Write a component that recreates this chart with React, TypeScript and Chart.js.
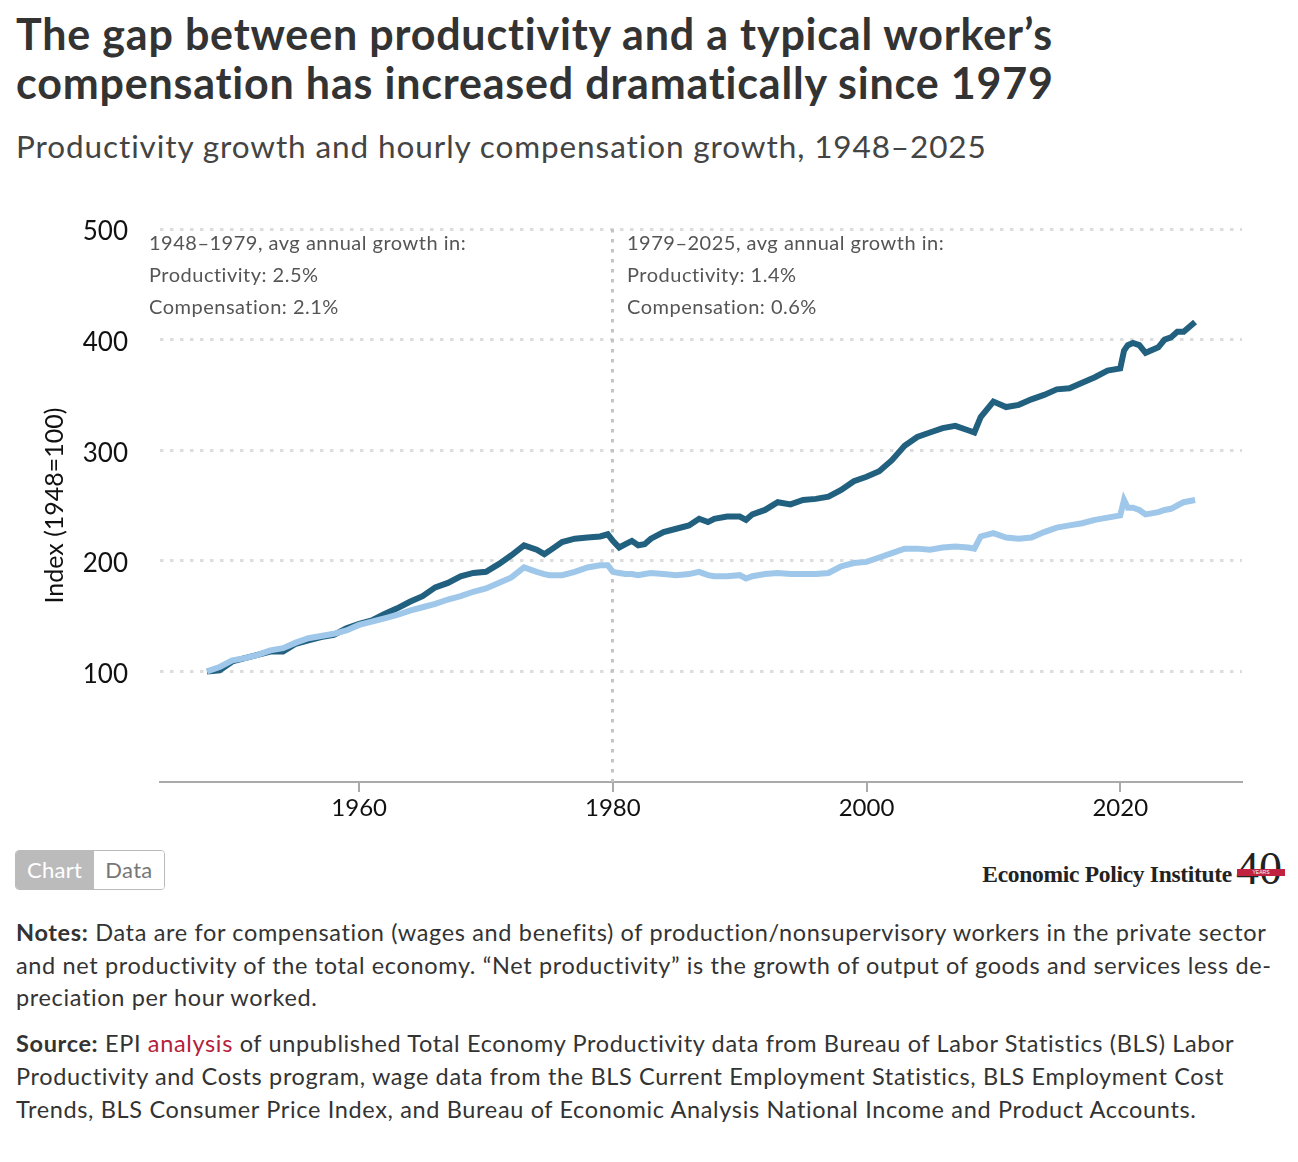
import { useEffect, useRef } from "react"
import { Chart, registerables } from "chart.js"

Chart.register(...registerables)

// sample points (index, 1948 = 100)
const years = [
  1948, 1949, 1950, 1951, 1952, 1953, 1954, 1955, 1956, 1957, 1958, 1959,
  1960, 1961, 1962, 1963, 1964, 1965, 1966, 1967, 1968, 1969, 1970, 1971,
  1972, 1973, 1974, 1974.6, 1975, 1976, 1977, 1978, 1979, 1979.6, 1980,
  1980.5, 1981, 1981.5, 1982, 1982.5, 1983, 1984, 1985, 1986, 1986.8, 1987.5,
  1988, 1989, 1990, 1990.5, 1991, 1992, 1993, 1994, 1995, 1996, 1997, 1998,
  1999, 2000, 2001, 2002, 2003, 2004, 2005, 2006, 2007, 2008, 2008.5, 2009,
  2010, 2011, 2012, 2013, 2014, 2015, 2016, 2017, 2018, 2019, 2020, 2020.3,
  2020.6, 2021, 2021.5, 2022, 2023, 2023.5, 2024, 2024.5, 2025, 2025.9,
]

const productivity = [
  100, 101, 109, 112, 115, 118, 118, 125, 128, 131, 133, 139,
  143, 146, 152, 157, 163, 168, 176, 180, 186, 189, 190, 197,
  205, 214, 210, 206, 209, 217, 220, 221, 222, 224, 218,
  212, 215, 218, 214, 215, 220, 226, 229, 232, 238, 235,
  238, 240, 240, 237, 242, 246, 253, 251, 255, 256, 258, 264,
  272, 276, 281, 291, 304, 312, 316, 320, 322, 318, 316, 330,
  344, 339, 341, 346, 350, 355, 356, 361, 366, 372, 374, 390,
  395, 397, 395, 388, 393, 400, 402, 407, 407, 416,
]

const compensation = [
  100, 104, 110, 112, 115, 119, 121, 126, 130, 132, 134, 137,
  142, 145, 148, 151, 155, 158, 161, 165, 168, 172, 175, 180,
  185, 194, 190, 188, 187, 187, 190, 194, 196, 196, 190,
  189, 188, 188, 187, 188, 189, 188, 187, 188, 190, 187,
  186, 186, 187, 184, 186, 188, 189, 188, 188, 188, 189, 195,
  198, 199, 203, 207, 211, 211, 210, 212, 213, 212, 211, 222,
  225, 221, 220, 221, 226, 230, 232, 234, 237, 239, 241, 255,
  248, 248, 246, 242, 244, 246, 247, 250, 253, 255,
]

const xTicks = [1960, 1980, 2000, 2020]
const yTicks = [100, 200, 300, 400, 500]
const splitYear = 1979.9

const FONT = "Lato, 'Open Sans', sans-serif"

// dotted vertical marker at the 1979 split
const splitLine = {
  id: "splitLine",
  beforeDatasetsDraw(chart: any) {
    const { ctx, chartArea, scales } = chart
    const x = Math.round(scales.x.getPixelForValue(splitYear)) + 0.5
    ctx.save()
    ctx.strokeStyle = "#c4c4c4"
    ctx.lineWidth = 3
    ctx.setLineDash([3.5, 6.5])
    ctx.beginPath()
    ctx.moveTo(x, chartArea.top)
    ctx.lineTo(x, chartArea.bottom)
    ctx.stroke()
    ctx.restore()
  },
}

function GapChart() {
  const chartRef = useRef<HTMLCanvasElement>(null)
  const chartInstance = useRef<Chart | null>(null)

  useEffect(() => {
    if (!chartRef.current) return
    if (chartInstance.current) chartInstance.current.destroy()
    const ctx = chartRef.current.getContext("2d")
    if (!ctx) return

    chartInstance.current = new Chart(ctx, {
      type: "line",
      data: {
        datasets: [
          {
            label: "Compensation",
            data: years.map((y, i) => ({ x: y, y: compensation[i] })),
            borderColor: "#9fc7ea",
            borderWidth: 6,
            pointRadius: 0,
            tension: 0,
            order: 0,
          },
          {
            label: "Productivity",
            data: years.map((y, i) => ({ x: y, y: productivity[i] })),
            borderColor: "#22607f",
            borderWidth: 6,
            pointRadius: 0,
            tension: 0,
            order: 1,
          },
        ],
      },
      options: {
        animation: false,
        responsive: true,
        maintainAspectRatio: false,
        layout: { padding: { top: 34, right: 48, left: 0, bottom: 0 } },
        plugins: {
          legend: { display: false },
          tooltip: { enabled: false },
        },
        scales: {
          x: {
            type: "linear",
            min: 1944.3,
            max: 2029.6,
            afterBuildTicks: (axis: any) => {
              axis.ticks = xTicks.map((v) => ({ value: v }))
            },
            afterFit: (scale: any) => {
              scale.height = 53
            },
            grid: {
              drawOnChartArea: false,
              drawTicks: true,
              tickLength: 10,
              color: "#aaaaaa",
              lineWidth: 2,
            },
            border: { color: "#aaaaaa", width: 2 },
            ticks: {
              padding: 2,
              color: "#111",
              font: { family: FONT, size: 24 },
              callback: (v: any) => String(v),
            },
          },
          y: {
            min: 0,
            max: 500,
            afterBuildTicks: (axis: any) => {
              axis.ticks = yTicks.map((v) => ({ value: v }))
            },
            afterFit: (scale: any) => {
              scale.width = 152
            },
            border: { display: false, dash: [3.5, 6.5] },
            grid: {
              drawTicks: true,
              tickLength: 28,
              tickColor: "rgba(0,0,0,0)",
              color: "#dddddd",
              lineWidth: 3,
            },
            ticks: {
              padding: 4,
              labelOffset: 3,
              color: "#111",
              font: { family: FONT, size: 26 },
              callback: (v: any) => String(v),
            },
            title: {
              display: true,
              text: "Index (1948=100)",
              color: "#111",
              font: { family: FONT, size: 25 },
              padding: { top: 32, bottom: 0 },
            },
          },
        },
      },
      plugins: [splitLine],
    } as any)

    return () => {
      if (chartInstance.current) {
        chartInstance.current.destroy()
        chartInstance.current = null
      }
    }
  }, [])

  const note: React.CSSProperties = {
    position: "absolute",
    fontSize: 20,
    letterSpacing: 0.5,
    color: "#555",
    lineHeight: "32px",
    whiteSpace: "nowrap",
  }

  return (
    <div style={{ position: "relative", height: 640, width: 1282 }}>
      <canvas ref={chartRef} />
      <div style={{ ...note, left: 141, top: 31 }}>
        1948–1979, avg annual growth in:
        <br />
        Productivity: 2.5%
        <br />
        Compensation: 2.1%
      </div>
      <div style={{ ...note, left: 619, top: 31 }}>
        1979–2025, avg annual growth in:
        <br />
        Productivity: 1.4%
        <br />
        Compensation: 0.6%
      </div>
    </div>
  )
}

export default function App() {
  return (
    <div style={{ fontFamily: FONT, width: 1282, color: "#333" }}>
      <div style={{ padding: "0 8px" }}>
        <div
          style={{
            fontSize: 43,
            letterSpacing: 0.8,
            fontWeight: 700,
            lineHeight: "49px",
            marginTop: 1,
            color: "#333",
          }}
        >
          The gap between productivity and a typical worker’s
          <br />
          compensation has increased dramatically since 1979
        </div>
        <div style={{ fontSize: 31.5, letterSpacing: 0.9, lineHeight: "40px", marginTop: 19, color: "#444" }}>
          Productivity growth and hourly compensation growth, 1948–2025
        </div>
      </div>
      <div style={{ marginTop: 29 }}>
        <GapChart />
      </div>
      <div style={{ position: "relative", height: 60, padding: "0 7px" }}>
        <div
          style={{
            position: "absolute",
            left: 7,
            top: 15,
            display: "flex",
            height: 38,
            border: "1px solid #bbb",
            borderRadius: 4,
            overflow: "hidden",
            fontSize: 22,
            letterSpacing: 0.3,
          }}
        >
          <div style={{ background: "#bbb", color: "#fff", padding: "0 12px 0 11px", lineHeight: "38px" }}>Chart</div>
          <div style={{ background: "#fff", color: "#777", padding: "0 11px", lineHeight: "38px" }}>Data</div>
        </div>
        <div
          style={{
            position: "absolute",
            right: 8,
            top: 14,
            display: "flex",
            alignItems: "flex-end",
            fontFamily: "'Liberation Serif', 'DejaVu Serif', serif",
            color: "#222",
          }}
        >
          <span style={{ fontSize: 23.5, fontWeight: 700, letterSpacing: -0.3, lineHeight: "30px" }}>
            Economic Policy Institute
          </span>
          <span style={{ position: "relative", fontSize: 46, lineHeight: "40px", marginLeft: 4 }}>
            40
            <span
              style={{
                position: "absolute",
                left: 1,
                right: -3,
                top: 20,
                height: 7,
                background: "#c0223f",
                color: "#fff",
                fontSize: 5,
                lineHeight: "7px",
                textAlign: "center",
                fontFamily: "sans-serif",
              }}
            >
              YEARS
            </span>
          </span>
        </div>
      </div>
      <div
        style={{
          padding: "0 8px",
          fontSize: 23.5,
          letterSpacing: 0.65,
          lineHeight: "32.7px",
          color: "#333",
          whiteSpace: "nowrap",
        }}
      >
        <div style={{ marginTop: 21 }}>
          <b>Notes:</b> Data are for compensation (wages and benefits) of production/nonsupervisory workers in the private sector
          <br />
          and net productivity of the total economy. “Net productivity” is the growth of output of goods and services less de-
          <br />
          preciation per hour worked.
        </div>
        <div style={{ marginTop: 13 }}>
          <b>Source:</b> EPI <span style={{ color: "#b5203a" }}>analysis</span> of unpublished Total Economy Productivity data from Bureau of Labor Statistics (BLS) Labor
          <br />
          Productivity and Costs program, wage data from the BLS Current Employment Statistics, BLS Employment Cost
          <br />
          Trends, BLS Consumer Price Index, and Bureau of Economic Analysis National Income and Product Accounts.
        </div>
      </div>
    </div>
  )
}
